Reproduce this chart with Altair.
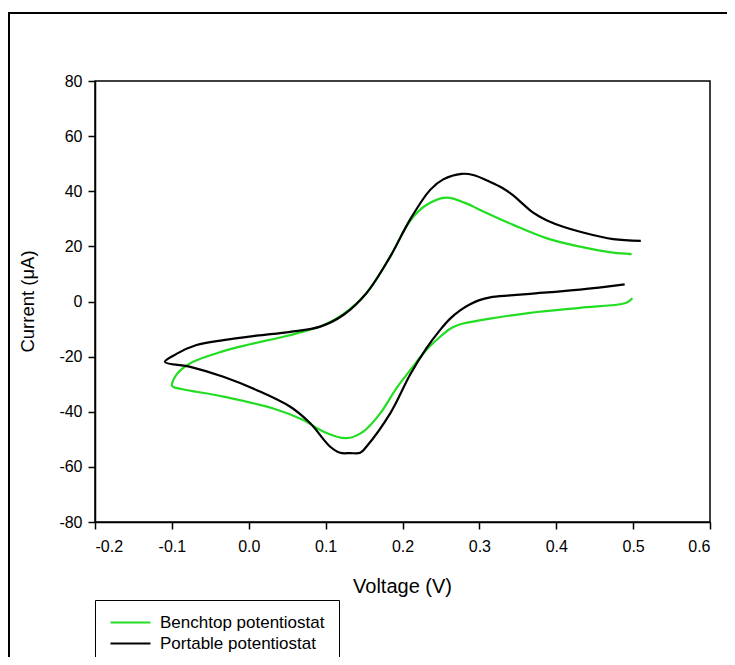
import altair as alt
import pandas as pd

# Benchtop potentiostat (green) - scan path
bench_v = [0.499, 0.492, 0.483, 0.431, 0.366, 0.314, 0.279, 0.270, 0.262, 0.249, 0.231, 0.210,
           0.192, 0.171, 0.149, 0.127, 0.097, 0.071, 0.032, -0.033, -0.098, -0.100,
           -0.094, -0.076, -0.033, 0.002, 0.045, 0.080, 0.097, 0.123, 0.153, 0.184,
           0.210, 0.231, 0.257, 0.283, 0.301, 0.344, 0.388, 0.431, 0.474, 0.498]
bench_i = [1.2, -0.4, -1.0, -2.3, -4.1, -6.2, -8.0, -8.8, -9.9, -12.8, -17.6, -24.9,
           -31.5, -40.6, -47.2, -49.6, -47.2, -43.0, -38.8, -34.5, -31.0, -30.5,
           -26.5, -22.4, -18.0, -15.5, -12.8, -10.2, -8.6, -4.6, 3.0, 16.3,
           29.3, 35.0, 37.7, 35.6, 33.2, 27.8, 22.9, 19.9, 17.7, 17.2]

# Portable potentiostat (black) - scan path
port_v = [0.489, 0.431, 0.366, 0.340, 0.314, 0.300, 0.288, 0.275, 0.262, 0.249, 0.231,
          0.210, 0.184, 0.153, 0.145, 0.132, 0.119, 0.106, 0.080, 0.054, 0.010,
          -0.033, -0.076, -0.109, -0.094, -0.068, -0.033, 0.010, 0.054, 0.093, 0.123,
          0.153, 0.184, 0.210, 0.236, 0.253, 0.277, 0.292, 0.314, 0.330, 0.344,
          0.355, 0.366, 0.377, 0.388, 0.410, 0.431, 0.474, 0.510]
port_i = [6.2, 4.3, 2.8, 2.2, 1.5, 0.5, -1.0, -3.2, -6.2, -10.3, -17.0,
          -26.5, -40.6, -52.7, -54.9, -55.0, -54.9, -52.7, -44.2, -38.2, -32.1,
          -27.3, -23.7, -21.9, -19.0, -15.8, -14.0, -12.4, -11.0, -9.1, -4.9,
          3.0, 16.3, 29.8, 40.5, 44.3, 46.3, 45.9, 43.4, 41.2, 38.5,
          35.8, 33.1, 31.0, 29.4, 27.0, 25.3, 22.6, 22.0]

series_names = ["Benchtop potentiostat", "Portable potentiostat"]
series_colors = ["#22dd22", "#000000"]
x_ticks = [-0.2, -0.1, 0.0, 0.1, 0.2, 0.3, 0.4, 0.5, 0.6]
y_ticks = [-80, -60, -40, -20, 0, 20, 40, 60, 80]

rows = []
for k, (v, i) in enumerate(zip(bench_v, bench_i)):
    rows.append({"series": series_names[0], "idx": k, "V": v, "I": i})
for k, (v, i) in enumerate(zip(port_v, port_i)):
    rows.append({"series": series_names[1], "idx": k, "V": v, "I": i})
df = pd.DataFrame(rows)

FONT = "Liberation Sans"

frame = alt.Chart(pd.DataFrame({"a": [0]})).mark_rect(
    fillOpacity=0, stroke="black", strokeWidth=2
).encode(
    x=alt.value(-86), x2=alt.value(660), y=alt.value(-68), y2=alt.value(620)
)

lines = alt.Chart(df).mark_line(strokeWidth=2.2, interpolate="catmull-rom").encode(
    x=alt.X("V:Q", scale=alt.Scale(domain=[-0.2, 0.6], nice=False),
            axis=alt.Axis(values=x_ticks, format=".1f", title="Voltage (V)",
                          labelExpr="replace(datum.label, '\u2212', '-')",
                          titleX=307, titleY=70, titleBaseline="alphabetic",
                          titleFontSize=20, labelPadding=9)),
    y=alt.Y("I:Q", scale=alt.Scale(domain=[-80, 80], nice=False),
            axis=alt.Axis(values=y_ticks, title="Current (\u03bcA)",
                          labelExpr="replace(datum.label, '\u2212', '-')",
                          titleX=-62, titleY=220, titleBaseline="alphabetic",
                          titleFontSize=18.5, labelPadding=6)),
    color=alt.Color("series:N",
                    scale=alt.Scale(domain=series_names, range=series_colors),
                    legend=alt.Legend(title=None, orient="none", legendX=0, legendY=519,
                                      symbolType="M-1.4,0H6.6", symbolSize=100,
                                      symbolStrokeWidth=2, labelOffset=34,
                                      labelFontSize=17, labelFont=FONT, labelColor="black",
                                      strokeColor="black", fillColor="white",
                                      padding=14, rowPadding=3, labelLimit=400)),
    order="idx:Q",
)

chart = alt.layer(frame, lines).properties(
    width=615, height=441,
    autosize=alt.AutoSizeParams(type="none"),
    padding={"left": 87, "top": 73, "right": 17, "bottom": 135},
).configure_view(
    stroke="black", strokeWidth=1.5
).configure_axis(
    grid=False, domainColor="black", domainWidth=1.5, tickColor="black", tickWidth=1.5,
    tickSize=7, labelFont=FONT, labelFontSize=16, labelColor="black",
    titleFont=FONT, titleFontWeight="normal", titleColor="black"
)

chart.save("out.html", embed_options={"renderer": "svg", "actions": False})
